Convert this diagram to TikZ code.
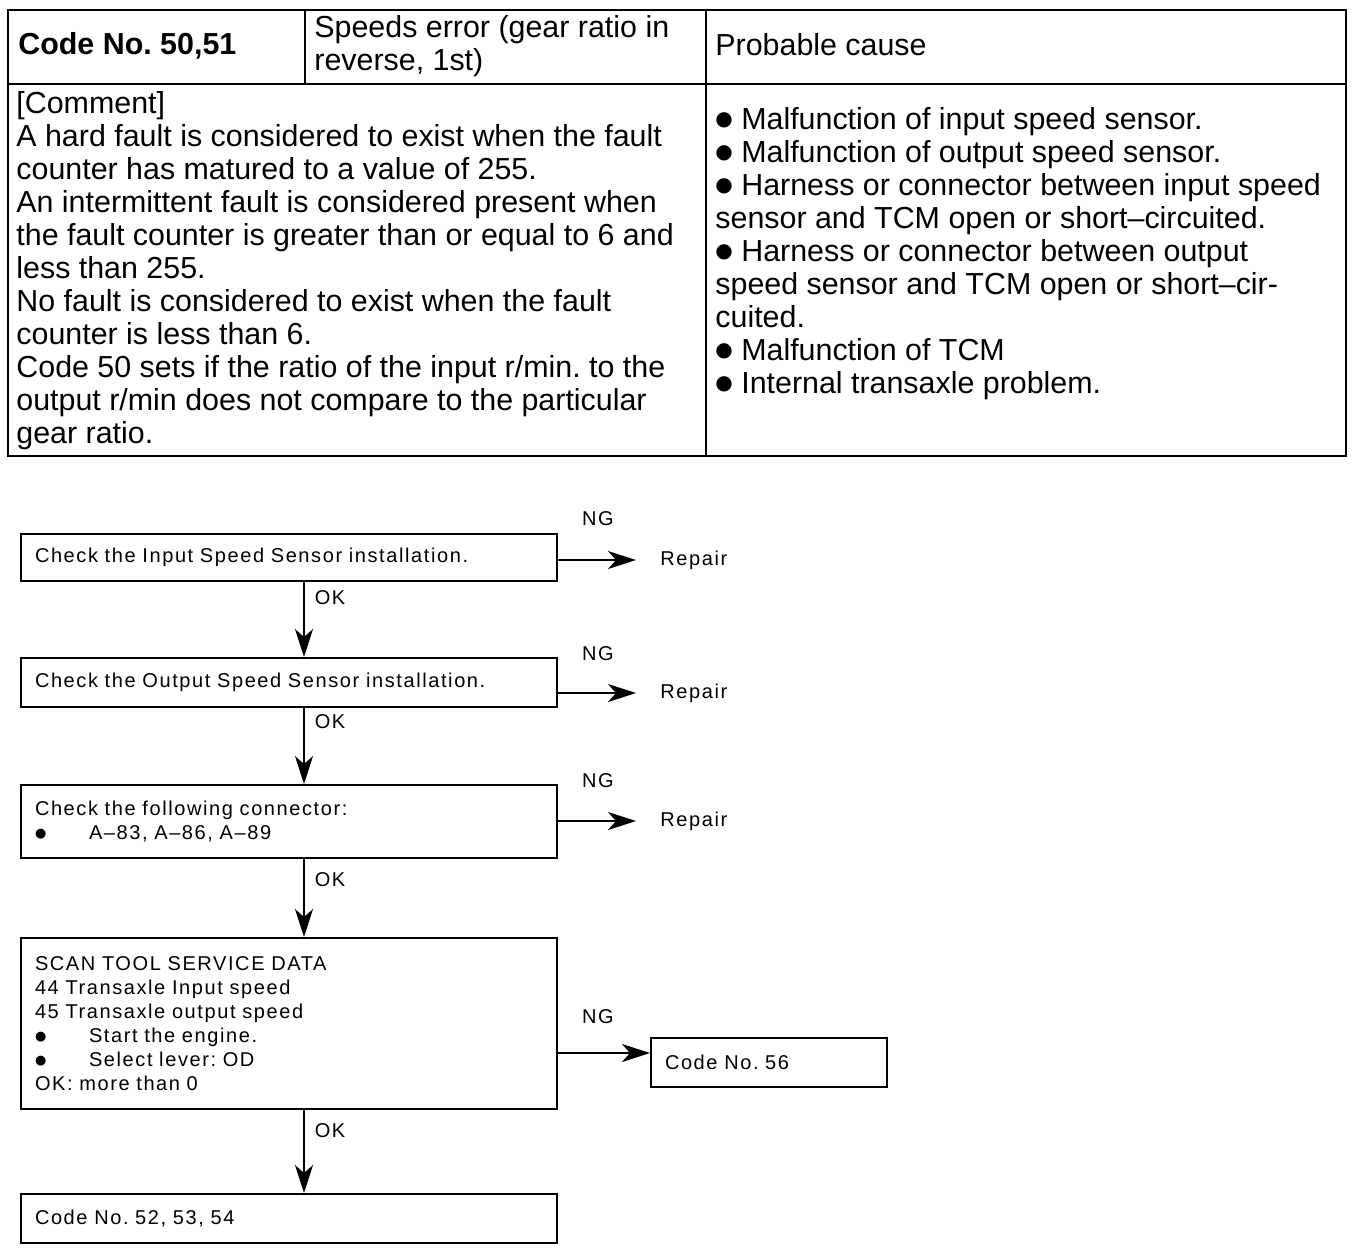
\documentclass[tikz,border=0pt]{standalone}
\usepackage{fontspec}
\setmainfont{Liberation Sans}
\newfontfamily\flowfont[LetterSpace=8, WordSpace=1.5]{Liberation Sans}
\newfontfamily\dotfont{DejaVu Sans}
\usetikzlibrary{arrows.meta, positioning, calc}

\newcommand{\bigdot}{\raisebox{0.12em}{\dotfont\fontsize{10}{10}\selectfont ●}}
\newcommand{\smalldot}{\makebox[27pt][l]{\raisebox{0.1em}{\dotfont\fontsize{6.5}{6.5}\selectfont ●}}}

\tikzset{
  cell/.style={inner sep=0pt, align=left, font=\fontsize{15.2}{16.5}\selectfont},
  chkbox/.style={draw, line width=1pt, anchor=north west, inner xsep=7pt, inner ysep=0pt,
    text width=254pt, align=left, font=\flowfont\fontsize{10}{12}\selectfont},
  flow/.style={line width=1pt, -{Stealth[length=14pt,width=9pt,inset=4pt]}},
  tag/.style={inner sep=0pt, font=\flowfont\fontsize{10}{12}\selectfont}
}

\begin{document}
\begin{tikzpicture}[x=0.5pt, y=-0.5pt]
  \useasboundingbox (0,0) rectangle (1360,1250);

  % table
  \draw[line width=1.2pt] (8,10) rectangle (1346,456);
  \draw[line width=1.2pt] (8,84) -- (1346,84);
  \draw[line width=1pt] (305,10) -- (305,84);
  \draw[line width=1pt] (706,10) -- (706,456);

  \node[cell, anchor=west] (code) at (18,46) {\bfseries Code No.\ 50,51};
  \node[cell, anchor=west] (title) at (314,46) {Speeds error (gear ratio in\\reverse, 1st)};
  \node[cell, anchor=west] (cause) at (715,45) {Probable cause};

  \node[cell, anchor=north west] (comment) at (16,91) {[Comment]\\
    A hard fault is considered to exist when the fault\\
    counter has matured to a value of 255.\\
    An intermittent fault is considered present when\\
    the fault counter is greater than or equal to 6 and\\
    less than 255.\\
    No fault is considered to exist when the fault\\
    counter is less than 6.\\
    Code 50 sets if the ratio of the input r/min.\ to the\\
    output r/min does not compare to the particular\\
    gear ratio.};

  \node[cell, anchor=north west] (causes) at (715,107) {\bigdot{} Malfunction of input speed sensor.\\
    \bigdot{} Malfunction of output speed sensor.\\
    \bigdot{} Harness or connector between input speed\\
    sensor and TCM open or short–circuited.\\
    \bigdot{} Harness or connector between output\\
    speed sensor and TCM open or short–cir-\\
    cuited.\\
    \bigdot{} Malfunction of TCM\\
    \bigdot{} Internal transaxle problem.};

  % flow chart
  \coordinate (spine) at (304,0);

  \node[chkbox, minimum height=23.5pt] (chk1) at (20,533) {Check the Input Speed Sensor installation.};
  \node[chkbox, minimum height=24.5pt] (chk2) at (20,657) {Check the Output Speed Sensor installation.};
  \node[chkbox, minimum height=36.5pt] (chk3) at (20,784) {Check the following connector:\\
    \smalldot A–83, A–86, A–89};
  \node[chkbox, minimum height=85.5pt] (chk4) at (20,937) {SCAN TOOL SERVICE DATA\\
    44 Transaxle Input speed\\
    45 Transaxle output speed\\
    \smalldot Start the engine.\\
    \smalldot Select lever:\ OD\\
    OK: more than 0};
  \node[chkbox, text width=104pt, minimum height=24.5pt] (code56) at (650,1037) {Code No.\ 56};
  \node[chkbox, minimum height=24.5pt] (chk5) at (20,1193) {Code No.\ 52, 53, 54};

  \node[tag, anchor=west] (rep1) at (660,560) {Repair};
  \node[tag, anchor=west] (rep2) at (660,693) {Repair};
  \node[tag, anchor=west] (rep3) at (660,821) {Repair};
  \coordinate (ng4) at (0,1053);

  \draw[flow] (chk1.south -| spine) -- (chk2.north -| spine);
  \draw[flow] (chk2.south -| spine) -- (chk3.north -| spine);
  \draw[flow] (chk3.south -| spine) -- (chk4.north -| spine);
  \draw[flow] (chk4.south -| spine) -- (chk5.north -| spine);

  \draw[flow, shorten >=12pt] (chk1.east |- rep1.west) -- (rep1.west);
  \draw[flow, shorten >=12pt] (chk2.east |- rep2.west) -- (rep2.west);
  \draw[flow, shorten >=12pt] (chk3.east |- rep3.west) -- (rep3.west);
  \draw[flow] (chk4.east |- ng4) -- (code56.west |- ng4);

  \node[tag] (ng1) at (598,519) {NG};
  \node[tag] (ng2) at (598,654) {NG};
  \node[tag] (ng3) at (598,781) {NG};
  \node[tag] (ng5) at (598,1017) {NG};
  \node[tag] (ok1) at (330,598) {OK};
  \node[tag] (ok2) at (330,722) {OK};
  \node[tag] (ok3) at (330,880) {OK};
  \node[tag] (ok4) at (330,1131) {OK};
\end{tikzpicture}
\end{document}
